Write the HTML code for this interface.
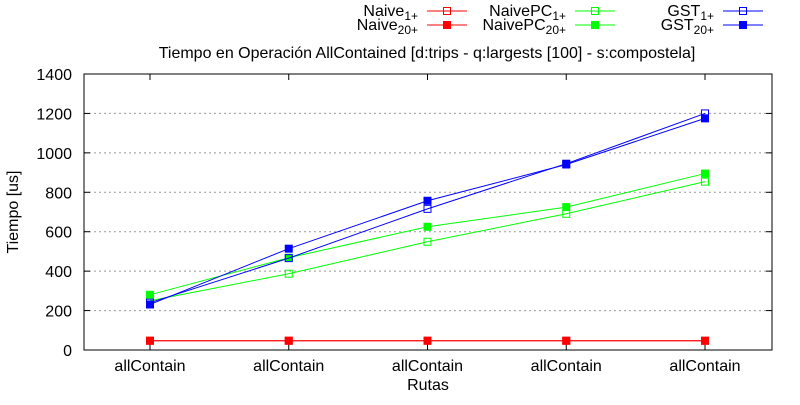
<!DOCTYPE html>
<html><head><meta charset="utf-8"><style>
body{margin:0;background:#fff}
text{font-family:"Liberation Sans",Arial,sans-serif;font-size:16px;fill:#000}
</style></head><body>
<svg id="chart" width="800" height="400" xmlns="http://www.w3.org/2000/svg"></svg>
<script>
const categories=["allContain","allContain","allContain","allContain","allContain"];
const naive1=[47,47,47,47,47];
const naive20=[47,47,47,47,47];
const naivePC1=[250,387,549,691,854];
const naivePC20=[280,468,625,725,895];
const gst1=[240,466,716,945,1200];
const gst20=[231,514,757,941,1175];
const yTicks=[0,200,400,600,800,1000,1200,1400];
const svg=document.getElementById('chart');
const NS='http://www.w3.org/2000/svg';
const L=84,R=772,T=74,B=350;
const xs=i=>150+i*138.75;
const ys=v=>B-(v/1400)*(B-T);
function mk(tag,attrs,parent){const e=document.createElementNS(NS,tag);for(const k in attrs)e.setAttribute(k,attrs[k]);(parent||svg).appendChild(e);return e;}
yTicks.forEach(v=>{
  const y=ys(v);
  if(v>0&&v<1400){const g=mk('line',{x1:L,x2:R,y1:y,y2:y,stroke:'#999','stroke-dasharray':'2,3'});
  
  }
  mk('line',{x1:L,x2:L+6,y1:y,y2:y,stroke:'#000'});
  mk('line',{x1:R,x2:R-6,y1:y,y2:y,stroke:'#000'});
  const t=mk('text',{x:L-12,y:y+6,'text-anchor':'end'});t.textContent=v;
  
  
});
categories.forEach((c,i)=>{
  const x=xs(i);
  mk('line',{x1:x,x2:x,y1:B,y2:B-6,stroke:'#000'});
  mk('line',{x1:x,x2:x,y1:T,y2:T+6,stroke:'#000'});
  const t=mk('text',{x:x,y:B+21,'text-anchor':'middle'});t.textContent=c;
  
  
});
const frame=mk('rect',{x:L,y:T,width:R-L,height:B-T,fill:'none',stroke:'#000'});


const series=[
 {d:naive1,c:'#f00',f:false,n:'naive-1'},{d:naive20,c:'#f00',f:true,n:'naive-20'},
 {d:naivePC1,c:'#0f0',f:false,n:'naivepc-1'},{d:naivePC20,c:'#0f0',f:true,n:'naivepc-20'},
 {d:gst1,c:'#00f',f:false,n:'gst-1'},{d:gst20,c:'#00f',f:true,n:'gst-20'}];
function marker(x,y,s,parent){
  return s.f?mk('rect',{x:x-4,y:y-4,width:8,height:8,fill:s.c},parent):mk('rect',{x:x-3.5,y:y-3.5,width:7,height:7,fill:'none',stroke:s.c},parent);
}
series.forEach(s=>{
  const g=mk('g',{});
  
  
  mk('polyline',{points:s.d.map((v,i)=>xs(i)+','+ys(v)).join(' '),fill:'none',stroke:s.c,'stroke-width':1},g);
  s.d.forEach((v,i)=>{const m=marker(xs(i),ys(v),s,g);
    
    });
});
const leg=[
 {b:'Naive',sub:'1+',x:418,y:16,s:series[0]},{b:'Naive',sub:'20+',x:418,y:30,s:series[1]},
 {b:'NaivePC',sub:'1+',x:566,y:16,s:series[2]},{b:'NaivePC',sub:'20+',x:566,y:30,s:series[3]},
 {b:'GST',sub:'1+',x:714,y:16,s:series[4]},{b:'GST',sub:'20+',x:714,y:30,s:series[5]}];
leg.forEach(l=>{
  const g=mk('g',{});
  
  
  const t=mk('text',{x:l.x,y:l.y,'text-anchor':'end'},g);
  t.innerHTML=l.b+'<tspan dy="4" font-size="12">'+l.sub+'</tspan>';
  const ly=l.y-5;
  mk('line',{x1:l.x+9,x2:l.x+49,y1:ly,y2:ly,stroke:l.s.c},g);
  marker(l.x+29,ly,l.s,g);
});
const title=mk('text',{x:427,y:58,'text-anchor':'middle'});title.textContent='Tiempo en Operación AllContained [d:trips - q:largests [100] - s:compostela]';


const xt=mk('text',{x:428,y:390,'text-anchor':'middle'});xt.textContent='Rutas';


const yt=mk('text',{x:0,y:0,'text-anchor':'middle',transform:'translate(18,212) rotate(-90)'});yt.textContent='Tiempo [us]';


</script>
</body></html>
